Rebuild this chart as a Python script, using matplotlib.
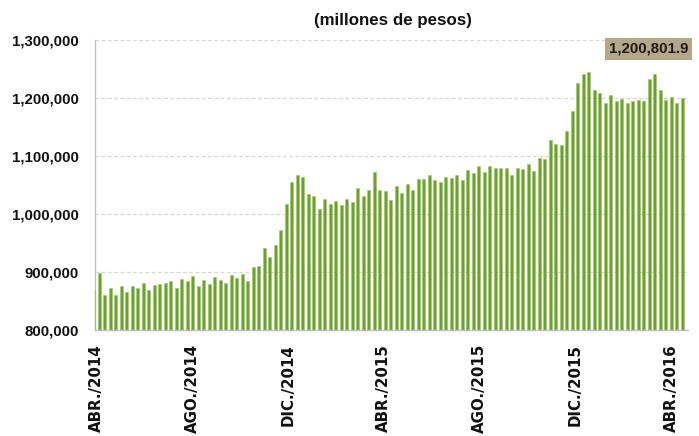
import matplotlib
matplotlib.use("Agg")
import matplotlib.pyplot as plt
import pandas as pd

# ---- data (millones de pesos), weekly, Fridays ----
start_date = "2014-03-28"
values = [
    871000, 898000, 860000, 873000, 861000, 876000, 865000, 876000, 872000, 881000,
    869000, 878000, 879000, 881000, 884000, 873000, 888000, 884000, 893000, 876000,
    887000, 879000, 892000, 887000, 881000, 894000, 890000, 897000, 885000, 909000,
    910000, 942000, 925000, 947000, 972000, 1017000, 1056000, 1068000,
    1063000, 1034000, 1031000, 1009000, 1026000, 1018000, 1022000, 1015000, 1026000, 1021000,
    1044000, 1031000, 1041000, 1072000, 1041000, 1040000, 1024000, 1049000,
    1036000, 1052000, 1042000, 1060000, 1060000, 1068000, 1059000, 1056000, 1064000, 1062000,
    1068000, 1059000, 1075000, 1070000, 1082000, 1073000, 1082000, 1079000,
    1080000, 1080000, 1068000, 1080000, 1077000, 1086000, 1074000, 1097000, 1095000, 1128000,
    1120000, 1119000, 1143000, 1178000, 1226000, 1241000, 1244000, 1213000, 1209000, 1192000,
    1205000, 1195000, 1198000, 1191000, 1195000, 1196000, 1195000, 1233000, 1241000, 1213000,
    1196000, 1202000, 1191000, 1200801.9,
]
dates = pd.date_range(start_date, periods=len(values), freq="W-FRI")

tick_dates = ["2014-04-01", "2014-08-01", "2014-12-01", "2015-04-01",
              "2015-08-01", "2015-12-01", "2016-04-01"]
tick_labels = ["ABR./2014", "AGO./2014", "DIC./2014", "ABR./2015",
               "AGO./2015", "DIC./2015", "ABR./2016"]
y_ticks = [800000, 900000, 1000000, 1100000, 1200000, 1300000]
title = "(millones de pesos)"

narrow = ["Liberation Sans", "DejaVu Sans"]

fig = plt.figure(figsize=(6.99, 4.36), dpi=100)
ax = fig.add_axes([94.5 / 699, 106 / 436, (688 - 94.5) / 699, 290 / 436])

ax.bar(dates, values, width=3.8, color="#6AA22A", edgecolor="#9CC86A",
       linewidth=0.4, zorder=3)

ax.set_ylim(800000, 1300000)
ax.set_xlim(pd.Timestamp("2014-03-29 05:00"), pd.Timestamp("2016-04-22 12:00"))

ax.set_yticks(y_ticks)
ax.set_yticklabels([f"{v:,.0f}" for v in y_ticks], family=narrow,
                   fontweight="bold", fontsize=10.8, color="#111111")
ax.set_xticks([pd.Timestamp(d) for d in tick_dates])
ax.set_xticklabels(tick_labels, rotation=90, family="DejaVu Sans",
                   fontweight="bold", fontsize=10.8, color="#111111",
                   va="top", ha="center")
ax.tick_params(axis="y", length=0, pad=11)
ax.tick_params(axis="x", length=0, pad=10)

ax.grid(axis="y", color="#D8D8C8", linestyle=(0, (3, 2)), linewidth=0.9, zorder=0)
for s in ["top", "right"]:
    ax.spines[s].set_visible(False)
for s in ["left", "bottom"]:
    ax.spines[s].set_color("#BFBFBF")
    ax.spines[s].set_linewidth(1.0)
ax.spines["bottom"].set_zorder(4)

fig.text(393 / 699, 1 - 20 / 436, title, ha="center", va="center",
         family=narrow, fontweight="bold", fontsize=12.2, color="#111111")

last = values[-1]
ax.annotate(f"{last:,.1f}", xy=(dates[-1], last), xytext=(-24, 35),
            textcoords="offset points", ha="center", va="center",
            family=narrow, fontweight="bold", fontsize=10.8, color="#1A1A1A",
            bbox=dict(boxstyle="square,pad=0.25", facecolor="#B5A888",
                      edgecolor="none"), zorder=5, annotation_clip=False)

fig.savefig("out.png", dpi=100)
